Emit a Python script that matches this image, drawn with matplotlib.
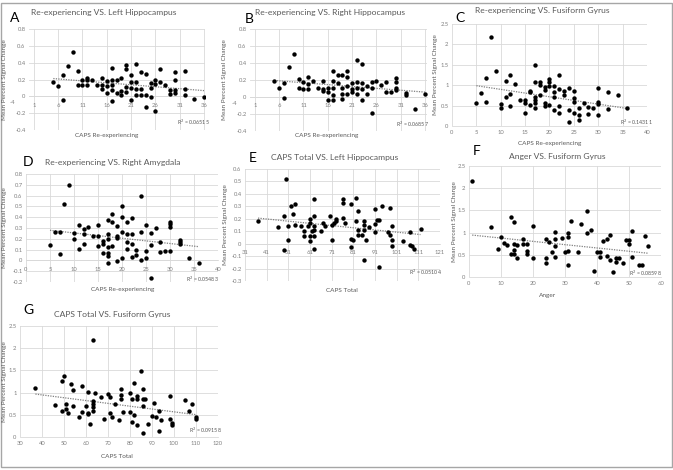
import numpy as np
import matplotlib
matplotlib.use("Agg")
import matplotlib.pyplot as plt
from matplotlib.patches import Rectangle

plt.rcParams['font.family'] = ['Lato', 'DejaVu Sans']

# ---- data ----
a_x = [5, 6, 7, 7, 8, 9, 10, 10, 11, 11, 12, 12, 12, 13, 14, 15, 15, 15, 16, 16, 16,
       17, 17, 17, 17, 17, 18, 18, 19, 19, 19, 20, 20, 20, 20, 21, 21, 21, 21,
       22, 22, 22, 22, 23, 23, 23, 24, 24, 24, 25, 25, 25, 26, 26, 26, 27, 27,
       28, 29, 29, 30, 30, 30, 30, 32, 32, 32, 34, 36]
a_y = [0.17, 0.12, 0.25, -0.04, 0.36, 0.53, 0.30, 0.14, 0.19, 0.14, 0.22, 0.19, 0.14,
       0.20, 0.14, 0.22, 0.14, 0.09, 0.18, 0.12, 0.04, 0.34, 0.19, 0.14, 0.08, -0.06,
       0.19, 0.04, 0.22, 0.06, 0.02, 0.37, 0.33, 0.11, 0.05, 0.25, 0.17, 0.10, -0.04,
       0.38, 0.17, 0.09, 0.02, 0.29, 0.09, 0.02, 0.26, 0.02, -0.13, 0.16, 0.10, -0.01,
       0.20, 0.15, -0.18, 0.33, 0.17, 0.13, 0.08, 0.03, 0.29, 0.19, 0.08, 0.04,
       0.30, 0.09, 0.02, -0.03, -0.01]

b_x = [5, 6, 7, 7, 8, 9, 10, 10, 11, 11, 12, 12, 12, 13, 14, 15, 15, 15, 16, 16, 16,
       17, 17, 17, 17, 17, 18, 18, 19, 19, 19, 19, 20, 20, 20, 20, 21, 21, 21,
       22, 22, 22, 22, 23, 23, 23, 23, 24, 24, 25, 25, 25, 26, 27, 28, 28, 29,
       30, 30, 30, 30, 32, 32, 34, 36]
b_y = [0.19, 0.11, 0.16, -0.01, 0.35, 0.51, 0.21, 0.11, 0.18, 0.10, 0.23, 0.15, 0.10,
       0.19, 0.11, 0.19, 0.10, 0.07, 0.11, 0.06, -0.04, 0.31, 0.19, 0.11, 0.02, -0.03,
       0.26, 0.16, 0.26, 0.11, 0.04, -0.02, 0.31, 0.24, 0.13, 0.03, 0.17, 0.10, 0.06,
       0.44, 0.18, 0.11, 0.03, 0.39, 0.16, 0.09, -0.03, 0.13, 0.03, 0.18, 0.11, -0.19,
       0.19, 0.14, 0.18, 0.06, 0.06, 0.22, 0.18, 0.11, 0.08, 0.05, 0.02, -0.14, 0.03]

c_x = [5, 6, 7, 7, 8, 9, 10, 10, 11, 11, 12, 12, 12, 13, 14, 15, 15, 15, 16, 16, 16,
       17, 17, 17, 17, 17, 17, 18, 18, 18, 19, 19, 19, 19, 20, 20, 20, 20,
       21, 21, 21, 21, 22, 22, 22, 22, 23, 23, 24, 24, 24, 25, 25, 25, 25,
       26, 26, 26, 27, 28, 28, 29, 30, 30, 30, 30, 32, 32, 34, 36]
c_y = [0.56, 0.80, 1.17, 0.60, 2.17, 1.36, 0.54, 0.43, 1.11, 0.70, 1.25, 0.78, 0.48,
       1.02, 0.64, 0.64, 0.57, 0.31, 0.87, 0.83, 0.52, 1.49, 1.07, 0.72, 0.64, 0.56,
       0.43, 1.07, 1.01, 0.76, 0.95, 0.89, 0.56, 0.49, 1.15, 1.07, 0.97, 0.52, 0.98,
       0.84, 0.70, 0.39, 1.25, 0.90, 0.48, 0.33, 0.86, 0.76, 0.93, 0.39, 0.11, 0.86,
       0.68, 0.60, 0.31, 0.43, 0.27, 0.15, 0.56, 0.46, 0.29, 0.43, 0.93, 0.60, 0.54,
       0.27, 0.84, 0.41, 0.75, 0.43]

d_x = [5, 6, 7, 7, 8, 9, 10, 10, 11, 11, 12, 12, 12, 13, 14, 15, 15, 15, 16, 16, 16,
       17, 17, 17, 17, 17, 17, 17, 18, 18, 18, 19, 19, 19, 19, 20, 20, 20, 20,
       21, 21, 21, 21, 22, 22, 22, 22, 23, 23, 24, 24, 24, 25, 25, 25, 26, 26, 26,
       27, 28, 28, 29, 30, 30, 30, 30, 32, 32, 32, 34, 36]
d_y = [0.14, 0.26, 0.26, 0.06, 0.52, 0.70, 0.25, 0.20, 0.33, 0.11, 0.29, 0.24, 0.15,
       0.31, 0.23, 0.33, 0.23, 0.13, 0.18, 0.15, 0.07, 0.37, 0.24, 0.20, 0.12, 0.07,
       0.04, -0.02, 0.43, 0.36, 0.13, 0.32, 0.23, 0.21, -0.01, 0.50, 0.40, 0.26, 0.02,
       0.36, 0.24, 0.17, 0.11, 0.39, 0.24, 0.15, 0.03, 0.10, 0.05, 0.60, 0.26, 0.00,
       0.33, 0.09, 0.02, 0.25, 0.14, -0.16, 0.30, 0.17, 0.08, 0.09, 0.36, 0.34, 0.31,
       0.09, 0.19, 0.17, 0.15, 0.02, -0.02]

e_x = [37, 46, 49, 49, 50, 51, 51, 52, 53, 54, 54, 57, 58, 58, 60, 61, 61, 61, 61, 62,
       63, 63, 63, 63, 63, 63, 66, 67, 68, 70, 71, 71, 72, 73, 73, 76, 76, 76, 77,
       80, 80, 80, 81, 82, 82, 83, 83, 83, 85, 86, 86, 86, 86, 87, 88, 91, 91, 91,
       92, 93, 93, 94, 97, 98, 98, 99, 99, 99, 104, 107, 107, 108, 109, 112]
e_y = [0.18, 0.13, 0.22, -0.05, 0.52, 0.14, 0.03, 0.30, 0.24, 0.32, 0.15, 0.14, 0.10,
       0.06, 0.14, 0.20, 0.17, 0.06, 0.02, 0.10, 0.36, 0.22, 0.14, 0.11, 0.06, -0.04,
       0.10, 0.17, 0.14, 0.22, 0.15, 0.03, 0.17, 0.18, 0.20, 0.36, 0.33, 0.21, 0.17,
       0.32, 0.04, -0.03, 0.03, 0.37, 0.18, 0.26, 0.11, 0.07, 0.07, 0.18, 0.15, 0.11,
       -0.13, 0.03, 0.13, 0.28, 0.16, 0.09, 0.19, 0.19, -0.19, 0.30, 0.09, 0.07, 0.29,
       0.14, 0.03, -0.02, 0.02, 0.09, -0.01, -0.02, -0.04, 0.12]

f_x = [1, 7, 10, 9, 11, 12, 13, 13, 14, 14, 14, 14, 15, 15, 17, 17, 18, 18, 18, 20, 20,
       24, 24, 24, 25, 26, 27, 27, 27, 27, 29, 30, 31, 31, 31, 31, 32, 34, 35, 37, 37,
       38, 39, 40, 41, 41, 42, 43, 43, 44, 44, 45, 46, 46, 47, 48, 49, 50, 50, 51, 51,
       53, 54, 55, 56]
f_y = [2.16, 1.12, 0.91, 0.63, 0.76, 0.71, 1.36, 0.51, 1.23, 0.75, 0.61, 0.51, 0.71,
       0.43, 0.85, 0.74, 0.74, 0.59, 0.52, 1.15, 0.43, 0.85, 0.43, 0.31, 0.78, 0.57,
       1.02, 0.85, 0.70, 0.46, 0.87, 0.57, 0.99, 0.90, 0.59, 0.26, 1.26, 0.56, 1.19,
       1.49, 1.00, 1.06, 0.14, 0.56, 0.56, 0.44, 0.80, 0.85, 0.48, 0.95, 0.39, 0.11,
       0.43, 0.34, 0.43, 0.31, 0.84, 0.84, 0.74, 1.04, 0.45, 0.28, 0.28, 0.93, 0.69]

g_x = [37, 46, 49, 49, 50, 51, 51, 52, 53, 54, 54, 57, 58, 58, 60, 61, 61, 61, 62, 63,
       63, 63, 63, 63, 64, 67, 68, 70, 71, 71, 72, 73, 75, 76, 76, 76, 77, 80, 80, 81,
       81, 82, 82, 83, 83, 83, 85, 86, 86, 86, 86, 87, 88, 90, 91, 92, 93, 93, 94, 98,
       98, 99, 99, 105, 107, 108, 110, 110]
g_y = [1.11, 0.71, 1.26, 0.58, 1.37, 0.74, 0.64, 0.54, 1.19, 1.05, 0.70, 0.44, 1.15,
       0.56, 0.70, 1.01, 0.55, 0.51, 0.30, 2.18, 0.80, 0.75, 0.68, 0.58, 1.00, 0.90,
       0.41, 0.96, 0.89, 0.53, 0.44, 0.75, 0.38, 1.07, 0.95, 0.85, 0.56, 0.99, 0.56,
       0.85, 0.34, 1.22, 0.49, 0.92, 0.85, 0.26, 1.49, 1.07, 0.86, 0.70, 0.10, 0.85,
       0.29, 0.47, 0.77, 0.44, 0.58, 0.14, 0.39, 0.92, 0.41, 0.32, 0.26, 0.83, 0.58,
       0.74, 0.45, 0.40]

W, H = 673, 470
fig = plt.figure(figsize=(W / 100, H / 100), dpi=100)

GRID = '#d9d9d9'
TXT = '#595959'
TICK = '#7f7f7f'


def fx(p):
    return p / W


def fy(p):
    return 1 - p / H


def panel(x, y, box, xlim, ylim, xticks, yticks, letter, title, xlab, r2,
          title_pos, letter_pos, xlab_pos, ylab_x, r2_pos, extra=None):
    x0, x1, yt, yb = box
    ax = fig.add_axes([fx(x0), fy(yb), (x1 - x0) / W, (yb - yt) / H])
    ax.set_xlim(*xlim)
    ax.set_ylim(*ylim)
    ax.set_xticks(xticks)
    ax.set_yticks(yticks)
    ax.set_yticklabels([('%.1f' % v).rstrip('0').rstrip('.') if v != 0 else '0' for v in yticks])
    ax.grid(True, color=GRID, lw=0.6)
    ax.set_axisbelow(True)
    for s in ['top', 'right', 'left']:
        ax.spines[s].set_visible(False)
    ax.spines['bottom'].set_color(GRID)
    ax.spines['bottom'].set_linewidth(0.6)
    xpad = 3
    if ylim[0] < 0:
        ax.spines['bottom'].set_position(('data', 0))
        xpad = 4.5
    ax.tick_params(length=0, labelsize=4.2, colors=TICK, pad=2.5)
    ax.tick_params(axis='x', pad=xpad)
    ax.scatter(x, y, s=10, color='black', zorder=3, linewidths=0)
    k, b = np.polyfit(x, y, 1)
    xs = np.array([min(x), max(x)])
    ax.plot(xs, k * xs + b, ls=(0, (1, 1)), color='#7f7f7f', lw=0.9, zorder=2)
    if extra is not None:
        ax.text(extra[0], -0.045, extra[1], ha='center', va='top', fontsize=4.2,
                color=TICK, clip_on=False)
    fig.text(fx(title_pos[0]), fy(title_pos[1]), title, ha='center', va='center',
             fontsize=6.1, color=TXT)
    fig.text(fx(letter_pos[0]), fy(letter_pos[1]), letter, ha='center', va='center',
             fontsize=10, color='black')
    fig.text(fx(xlab_pos[0]), fy(xlab_pos[1]), xlab, ha='center', va='center',
             fontsize=4.6, color=TXT)
    fig.text(fx(ylab_x), fy((yt + yb) / 2), 'Mean Percent Signal Change', ha='center',
             va='center', rotation=90, fontsize=4.6, color=TXT)
    fig.text(fx(r2_pos[0]), fy(r2_pos[1]), 'R$^2$ = ' + r2, ha='center', va='center',
             fontsize=3.8, color=TXT)
    return ax


panel(a_x, a_y, (29, 205, 29, 130), (0, 36.2), (-0.4, 0.8), list(range(1, 37, 5)),
      [-0.4, -0.2, 0, 0.2, 0.4, 0.6, 0.8], 'A', 'Re-experiencing VS. Left Hippocampus',
      'CAPS Re-experiencing', '0.06515', (104, 13), (15, 18), (107, 136), 5, (193, 122),
      extra=(-3.4, '-4'))
panel(b_x, b_y, (250, 427, 29, 131), (0, 36.4), (-0.4, 0.8), list(range(1, 37, 5)),
      [-0.4, -0.2, 0, 0.2, 0.4, 0.6, 0.8], 'B', 'Re-experiencing VS. Right Hippocampus',
      'CAPS Re-experiencing', '0.06857', (330, 12), (249, 19), (327, 136), 225, (412, 124),
      extra=(-3.2, '-4'))
panel(c_x, c_y, (452, 647, 24, 126), (0, 40), (0, 2.5), list(range(0, 41, 5)),
      [0, 0.5, 1, 1.5, 2, 2.5], 'C', 'Re-experiencing VS. Fusiform Gyrus',
      'CAPS Re-experiencing', '0.14311', (542, 11), (460, 18), (550, 143), 435, (636, 122))
panel(d_x, d_y, (26, 218, 174, 282), (0, 40), (-0.2, 0.8), list(range(0, 41, 5)),
      [round(v, 1) for v in np.arange(-0.2, 0.81, 0.1)], 'D', 'Re-experiencing VS. Right Amygdala',
      'CAPS Re-experiencing', '0.05483', (113, 162), (28, 162), (123, 290), 5, (202, 279))
panel(e_x, e_y, (245, 440, 169, 281), (31, 121), (-0.3, 0.6), list(range(31, 122, 10)),
      [round(v, 1) for v in np.arange(-0.3, 0.61, 0.1)], 'E', 'CAPS Total VS. Left Hippocampus',
      'CAPS Total', '0.05104', (335, 158), (253, 158), (342, 291), 226, (425, 272))
panel(f_x, f_y, (469, 661, 166, 277), (0, 60), (0, 2.5), list(range(0, 61, 10)),
      [0, 0.5, 1, 1.5, 2, 2.5], 'F', 'Anger VS. Fusiform Gyrus',
      'Anger', '0.08598', (557, 156), (477, 151), (548, 295), 454, (645, 273))
panel(g_x, g_y, (20, 218, 326, 437), (30, 120), (0, 2.5), list(range(30, 121, 10)),
      [0, 0.5, 1, 1.5, 2, 2.5], 'G', 'CAPS Total VS. Fusiform Gyrus',
      'CAPS Total', '0.09158', (112, 315), (28, 310), (117, 456), 5, (205, 430))

# thin frame around the whole figure
fig.patches.append(Rectangle((0.002, 0.006), 0.996, 0.988, transform=fig.transFigure,
                             fill=False, edgecolor='#a6a6a6', lw=1))

fig.savefig('out.png', dpi=100)
